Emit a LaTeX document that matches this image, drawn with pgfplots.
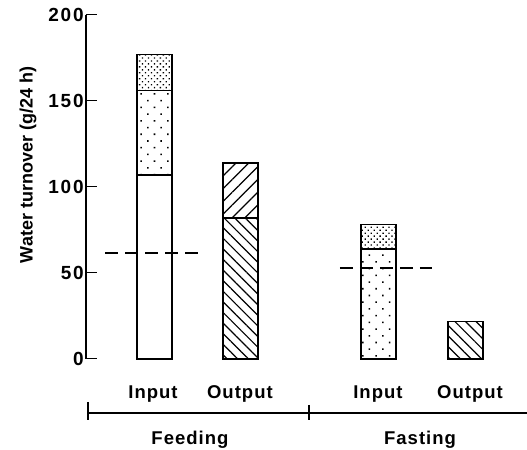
\documentclass[border=0pt]{standalone}
\usepackage{fontspec}
\setmainfont{Liberation Sans}
\newfontfamily\lab[LetterSpace=5.5]{Liberation Sans}
\newfontfamily\tck[LetterSpace=10]{Liberation Sans}
\usepackage{pgfplots}
\pgfplotsset{compat=1.18}
\usetikzlibrary{patterns.meta}
\begin{document}
\begin{tikzpicture}
\begin{axis}[
  scale only axis, width=441pt, height=344pt,
  xmin=0, xmax=5.128, ymin=0, ymax=200,
  axis x line=none,
  axis y line=left, axis line style={-, line width=1.5pt},
  ytick={0,50,100,150,200},
  tick align=inside, major tick length=11pt,
  ytick style={line width=1pt, black},
  yticklabel style={font=\tck\bfseries\fontsize{19}{21}\selectfont, inner xsep=2pt},
  /pgf/number format/assume math mode=true,
  ybar stacked, bar width=0.407,
  clip=false,
  ylabel={Water turnover (g/24 h)},
  ylabel style={at={(axis description cs:-0.1315,0.564)}, anchor=center, font=\bfseries\fontsize{18}{20}\selectfont},
]
\addplot[draw=black, line width=1.3pt, fill=white] coordinates {(0.7965,107) (1.797,0) (3.401,0) (4.413,0)};
\addplot[draw=black, line width=1.3pt, pattern={Lines[angle=-45,distance=7.5pt,line width=1.2pt]}] coordinates {(0.7965,0) (1.797,82) (3.401,0) (4.413,22)};
\addplot[draw=black, line width=1.3pt, pattern={Dots[distance=9.5pt,angle=45,radius=1.1pt]}] coordinates {(0.7965,49) (1.797,0) (3.401,64) (4.413,0)};
\addplot[draw=black, line width=1.3pt, pattern={Lines[angle=45,distance=9pt,line width=1.2pt]}] coordinates {(0.7965,0) (1.797,32) (3.401,0) (4.413,0)};
\addplot[draw=black, line width=1.3pt, pattern={Dots[distance=4.2pt,angle=45,radius=0.95pt]}] coordinates {(0.7965,21) (1.797,0) (3.401,14) (4.413,0)};
\end{axis}
\begin{axis}[
  scale only axis, width=441pt, height=344pt,
  xmin=0, xmax=5.128, ymin=0, ymax=200,
  hide axis, clip=false,
]
\addplot[black, line width=1.4pt, dash pattern=on 13pt off 7pt] coordinates {(0.221,61.6) (1.36,61.6)};
\addplot[black, line width=1.4pt, dash pattern=on 13pt off 7pt] coordinates {(2.953,52.9) (4.023,52.9)};
\draw[line width=1.3pt] (axis cs:0.023,-31.4) -- (axis cs:5.128,-31.4);
\draw[line width=1.3pt] (axis cs:0.023,-25.0) -- (axis cs:0.023,-35.5);
\draw[line width=1.3pt] (axis cs:2.593,-26.7) -- (axis cs:2.593,-35.5);
\node[anchor=base, font=\lab\bfseries\fontsize{18.5}{20}\selectfont] at (axis cs:0.779,-22.7) {Input};
\node[anchor=base, font=\lab\bfseries\fontsize{18.5}{20}\selectfont] at (axis cs:1.79,-22.7) {Output};
\node[anchor=base, font=\lab\bfseries\fontsize{18.5}{20}\selectfont] at (axis cs:3.395,-22.7) {Input};
\node[anchor=base, font=\lab\bfseries\fontsize{18.5}{20}\selectfont] at (axis cs:4.465,-22.7) {Output};
\node[anchor=base, font=\lab\bfseries\fontsize{18.5}{20}\selectfont] at (axis cs:1.209,-50.0) {Feeding};
\node[anchor=base, font=\lab\bfseries\fontsize{18.5}{20}\selectfont] at (axis cs:3.884,-50.0) {Fasting};
\coordinate (bl) at (axis cs:-1,-52.9);
\coordinate (tr) at (axis cs:5.128,208.72);
\end{axis}
\pgfresetboundingbox
\useasboundingbox (bl) rectangle (tr);
\end{tikzpicture}
\end{document}
